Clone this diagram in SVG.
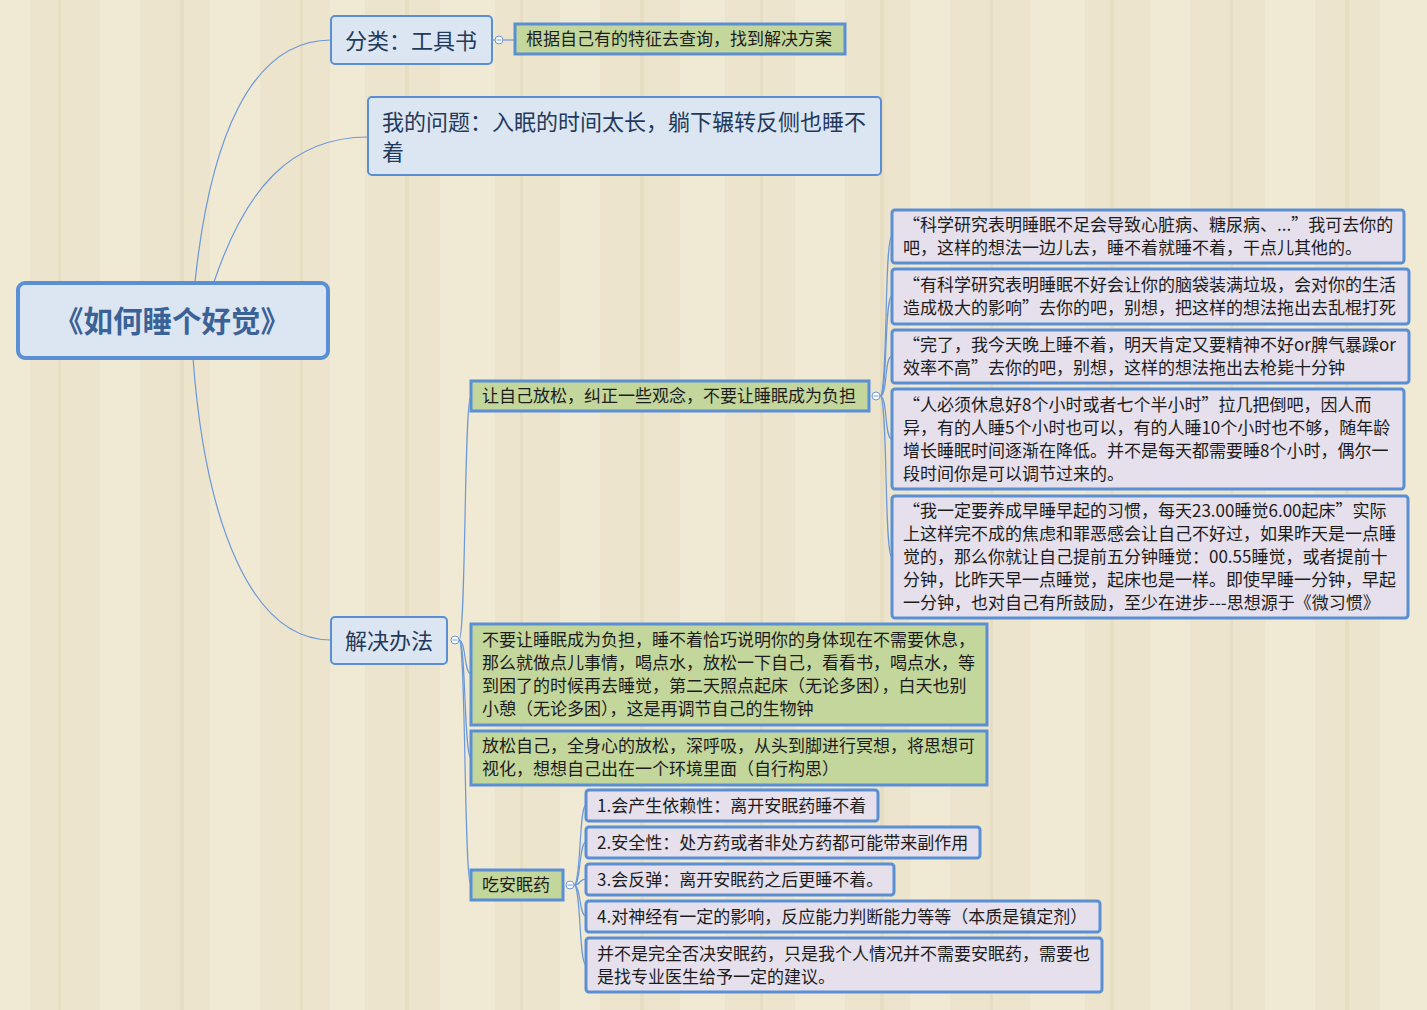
<svg xmlns="http://www.w3.org/2000/svg" width="1427" height="1010" viewBox="0 0 1427 1010">
<defs>
<style>
.bg{fill:#ede4cd}
.st{fill:#f3ecdb;opacity:.55}
.sd{fill:#ddd0b0;opacity:.35}
.root{fill:#dce6f2;stroke:#5a8fd4;stroke-width:4}
.main{fill:#dce6f2;stroke:#5a8fd4;stroke-width:2}
.green{fill:#c3d69b;stroke:#5a8fd4;stroke-width:3}
.lav{fill:#e5e0ec;stroke:#5a8fd4;stroke-width:3}
.t{font-family:"Noto Sans CJK SC","Noto Sans",sans-serif}
.rt{font-size:29.5px;font-weight:bold;fill:#3a6296}
.mt{font-size:22px;fill:#1f3a5c}
.lt{font-size:17px;fill:#1c1c1c}
.c{fill:none;stroke:#6a98d8;stroke-width:1.2}
.k{fill:#fff;stroke:#6a98d8;stroke-width:1}
.km{stroke:#6a98d8;stroke-width:1}
</style>
</defs>
<rect class="bg" x="0" y="0" width="1427" height="1010"/>
<g id="background">
<rect class="st" x="0" y="0" width="30" height="1010"/>
<rect class="sd" x="58" y="0" width="3" height="1010"/>
<rect class="st" x="100" y="0" width="40" height="1010"/>
<rect class="sd" x="180" y="0" width="4" height="1010"/>
<rect class="st" x="210" y="0" width="50" height="1010"/>
<rect class="sd" x="300" y="0" width="3" height="1010"/>
<rect class="st" x="330" y="0" width="35" height="1010"/>
<rect class="sd" x="405" y="0" width="4" height="1010"/>
<rect class="st" x="440" y="0" width="55" height="1010"/>
<rect class="sd" x="520" y="0" width="3" height="1010"/>
<rect class="st" x="560" y="0" width="40" height="1010"/>
<rect class="sd" x="640" y="0" width="4" height="1010"/>
<rect class="st" x="680" y="0" width="45" height="1010"/>
<rect class="sd" x="760" y="0" width="3" height="1010"/>
<rect class="st" x="795" y="0" width="50" height="1010"/>
<rect class="sd" x="880" y="0" width="4" height="1010"/>
<rect class="st" x="910" y="0" width="40" height="1010"/>
<rect class="sd" x="990" y="0" width="3" height="1010"/>
<rect class="st" x="1030" y="0" width="55" height="1010"/>
<rect class="sd" x="1110" y="0" width="4" height="1010"/>
<rect class="st" x="1150" y="0" width="40" height="1010"/>
<rect class="sd" x="1230" y="0" width="3" height="1010"/>
<rect class="st" x="1265" y="0" width="50" height="1010"/>
<rect class="sd" x="1345" y="0" width="4" height="1010"/>
<rect class="st" x="1380" y="0" width="47" height="1010"/>
</g>
<g id="connectors">
<path class="c" d="M195 282 C210 140 250 40 331 40"/>
<path class="c" d="M214 282 C245 190 290 137 368 137"/>
<path class="c" d="M193 358 C205 520 250 640 331 640"/>
<path class="c" d="M492 40 L515 40"/>
<path class="c" d="M459 640 C466 640 464 396 471 396"/>
<path class="c" d="M459 640 C466 640 464 674 471 674"/>
<path class="c" d="M459 640 C466 640 464 758 471 758"/>
<path class="c" d="M459 640 C466 640 464 885 471 885"/>
<path class="c" d="M880 396 C888 396 884 236 892 236"/>
<path class="c" d="M880 396 C888 396 884 296 892 296"/>
<path class="c" d="M880 396 C888 396 884 356 892 356"/>
<path class="c" d="M880 396 C888 396 884 439 892 439"/>
<path class="c" d="M880 396 C888 396 884 557 892 557"/>
<path class="c" d="M574 885 C581 885 579 805 586 805"/>
<path class="c" d="M574 885 C581 885 579 842 586 842"/>
<path class="c" d="M574 885 C581 885 579 879 586 879"/>
<path class="c" d="M574 885 C581 885 579 916 586 916"/>
<path class="c" d="M574 885 C581 885 579 965 586 965"/>
</g>
<g id="root">
<rect class="root" x="18" y="283" width="310" height="75" rx="7"/>
<text class="t rt" x="172" y="332" text-anchor="middle">《如何睡个好觉》</text>
</g>
<g id="n-category">
<rect class="main" x="331" y="16" width="161" height="48" rx="4"/>
<text class="t mt" x="345" y="49">分类：工具书</text>
<circle class="k" cx="499" cy="40" r="4"/><line class="km" x1="496.5" y1="40" x2="501.5" y2="40"/>
</g>
<g id="n-category-leaf">
<rect class="green" x="515" y="24" width="330" height="30"/>
<text class="t lt" x="526" y="45">根据自己有的特征去查询，找到解决方案</text>
</g>
<g id="n-problem">
<rect class="main" x="368" y="97" width="513" height="78" rx="4"/>
<text class="t mt" x="382" y="130">我的问题：入眠的时间太长，躺下辗转反侧也睡不</text>
<text class="t mt" x="382" y="160">着</text>
</g>
<g id="n-solution">
<rect class="main" x="331" y="617" width="116" height="47" rx="4"/>
<text class="t mt" x="345" y="649">解决办法</text>
<circle class="k" cx="455" cy="640" r="4"/><line class="km" x1="452.5" y1="640" x2="457.5" y2="640"/>
</g>
<g id="n-relax">
<rect class="green" x="471" y="381" width="398" height="30"/>
<text class="t lt" x="482" y="402">让自己放松，纠正一些观念，不要让睡眠成为负担</text>
<circle class="k" cx="876" cy="396" r="4"/><line class="km" x1="873.5" y1="396" x2="878.5" y2="396"/>
</g>
<g id="n-relax-1">
<rect class="lav" x="892" y="210" width="512" height="53" rx="3"/>
<text class="t lt" x="903" y="231">“科学研究表明睡眠不足会导致心脏病、糖尿病、...”我可去你的</text>
<text class="t lt" x="903" y="254">吧，这样的想法一边儿去，睡不着就睡不着，干点儿其他的。</text>
</g>
<g id="n-relax-2">
<rect class="lav" x="892" y="269" width="517" height="55" rx="3"/>
<text class="t lt" x="903" y="291">“有科学研究表明睡眠不好会让你的脑袋装满垃圾，会对你的生活</text>
<text class="t lt" x="903" y="314">造成极大的影响”去你的吧，别想，把这样的想法拖出去乱棍打死</text>
</g>
<g id="n-relax-3">
<rect class="lav" x="892" y="330" width="517" height="53" rx="3"/>
<text class="t lt" x="903" y="351">“完了，我今天晚上睡不着，明天肯定又要精神不好or脾气暴躁or</text>
<text class="t lt" x="903" y="374">效率不高”去你的吧，别想，这样的想法拖出去枪毙十分钟</text>
</g>
<g id="n-relax-4">
<rect class="lav" x="892" y="389" width="512" height="100" rx="3"/>
<text class="t lt" x="903" y="411">“人必须休息好8个小时或者七个半小时”拉几把倒吧，因人而</text>
<text class="t lt" x="903" y="434">异，有的人睡5个小时也可以，有的人睡10个小时也不够，随年龄</text>
<text class="t lt" x="903" y="457">增长睡眠时间逐渐在降低。并不是每天都需要睡8个小时，偶尔一</text>
<text class="t lt" x="903" y="480">段时间你是可以调节过来的。</text>
</g>
<g id="n-relax-5">
<rect class="lav" x="892" y="496" width="516" height="122" rx="3"/>
<text class="t lt" x="903" y="517">“我一定要养成早睡早起的习惯，每天23.00睡觉6.00起床”实际</text>
<text class="t lt" x="903" y="540">上这样完不成的焦虑和罪恶感会让自己不好过，如果昨天是一点睡</text>
<text class="t lt" x="903" y="563">觉的，那么你就让自己提前五分钟睡觉：00.55睡觉，或者提前十</text>
<text class="t lt" x="903" y="586">分钟，比昨天早一点睡觉，起床也是一样。即使早睡一分钟，早起</text>
<text class="t lt" x="903" y="609">一分钟，也对自己有所鼓励，至少在进步---思想源于《微习惯》</text>
</g>
<g id="n-burden">
<rect class="green" x="471" y="624" width="516" height="101"/>
<text class="t lt" x="482" y="646">不要让睡眠成为负担，睡不着恰巧说明你的身体现在不需要休息，</text>
<text class="t lt" x="482" y="669">那么就做点儿事情，喝点水，放松一下自己，看看书，喝点水，等</text>
<text class="t lt" x="482" y="692">到困了的时候再去睡觉，第二天照点起床（无论多困），白天也别</text>
<text class="t lt" x="482" y="715">小憩（无论多困），这是再调节自己的生物钟</text>
</g>
<g id="n-meditate">
<rect class="green" x="471" y="731" width="516" height="54"/>
<text class="t lt" x="482" y="752">放松自己，全身心的放松，深呼吸，从头到脚进行冥想，将思想可</text>
<text class="t lt" x="482" y="775">视化，想想自己出在一个环境里面（自行构思）</text>
</g>
<g id="n-pills">
<rect class="green" x="471" y="870" width="92" height="30"/>
<text class="t lt" x="482" y="891">吃安眠药</text>
<circle class="k" cx="570" cy="885" r="4"/><line class="km" x1="567.5" y1="885" x2="572.5" y2="885"/>
</g>
<g id="n-pills-1">
<rect class="lav" x="586" y="790" width="292" height="31" rx="3"/>
<text class="t lt" x="597" y="812">1.会产生依赖性：离开安眠药睡不着</text>
</g>
<g id="n-pills-2">
<rect class="lav" x="586" y="827" width="394" height="31" rx="3"/>
<text class="t lt" x="597" y="849">2.安全性：处方药或者非处方药都可能带来副作用</text>
</g>
<g id="n-pills-3">
<rect class="lav" x="586" y="864" width="308" height="31" rx="3"/>
<text class="t lt" x="597" y="886">3.会反弹：离开安眠药之后更睡不着。</text>
</g>
<g id="n-pills-4">
<rect class="lav" x="586" y="901" width="514" height="31" rx="3"/>
<text class="t lt" x="597" y="923">4.对神经有一定的影响，反应能力判断能力等等（本质是镇定剂）</text>
</g>
<g id="n-pills-5">
<rect class="lav" x="586" y="938" width="516" height="54" rx="3"/>
<text class="t lt" x="597" y="960">并不是完全否决安眠药，只是我个人情况并不需要安眠药，需要也</text>
<text class="t lt" x="597" y="983">是找专业医生给予一定的建议。</text>
</g>
</svg>
